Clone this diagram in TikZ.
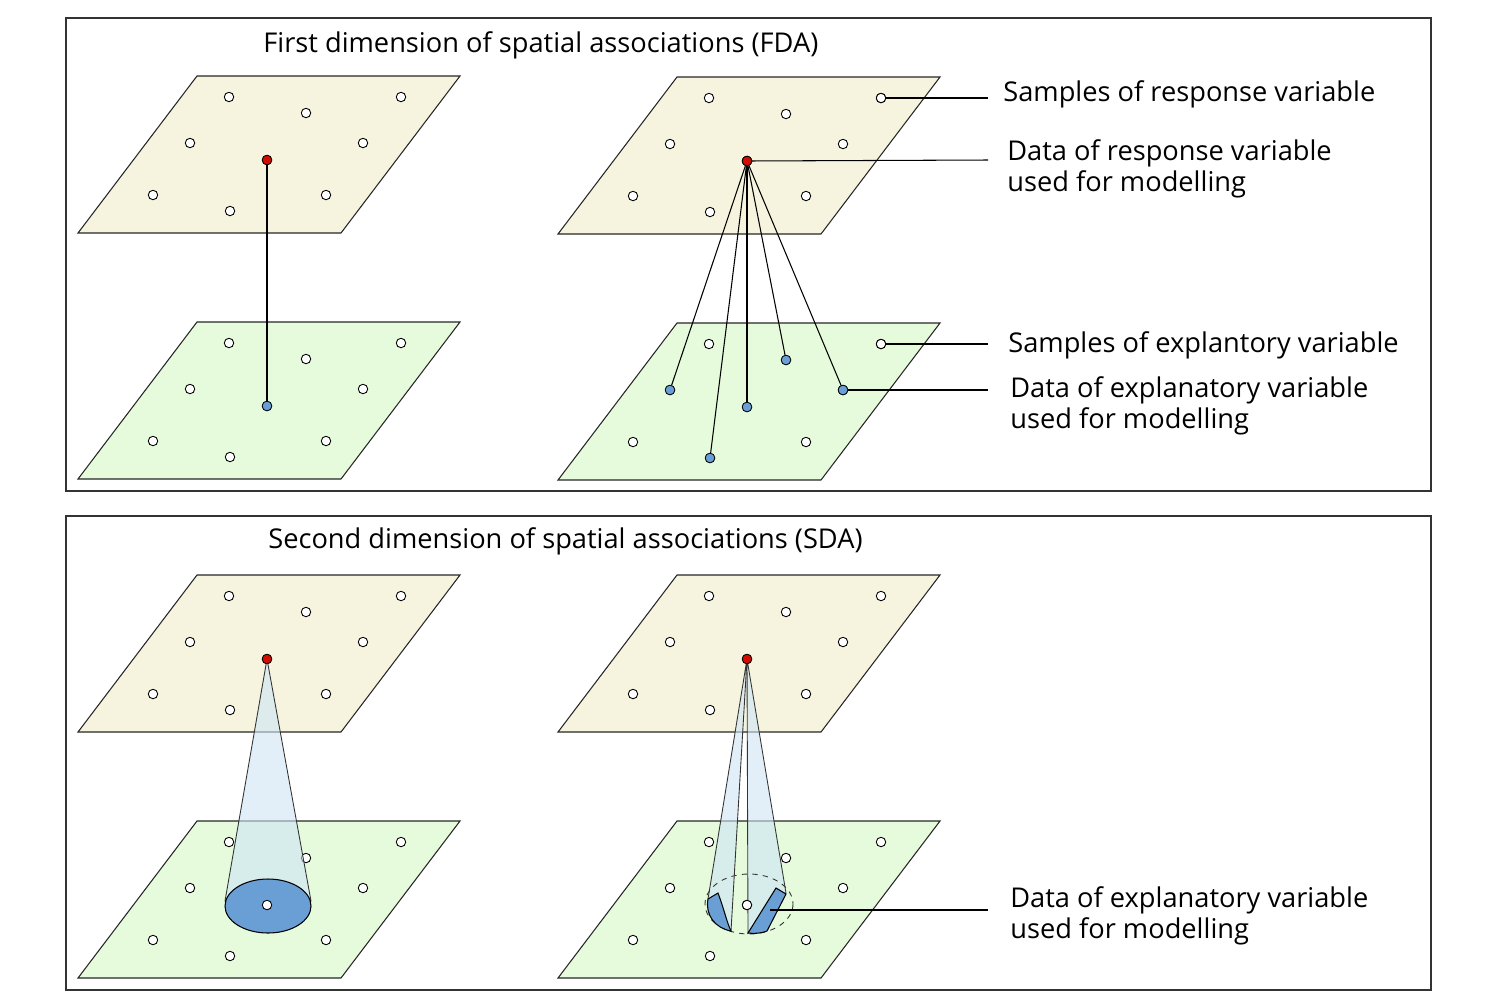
\documentclass[tikz,border=0pt]{standalone}
\usepackage{fontspec}
\setmainfont{Open Sans}
\begin{document}
\begin{tikzpicture}[x=0.02cm,y=-0.02cm,
  frame/.style={draw=black!80,line width=0.6pt},
  topplane/.style={fill=yellow!8!white!92!brown,fill=topc,draw=black!85,line width=0.6pt},
  botplane/.style={fill=botc,draw=black!85,line width=0.6pt},
  od/.style={circle,draw=black,fill=white,inner sep=0pt,minimum size=9.5pt*0.567*1.0,line width=0.5pt},
  rd/.style={circle,draw=black,fill=red!80!black!90!orange,inner sep=0pt,minimum size=5.5pt,line width=0.4pt},
  bd/.style={circle,draw=black,fill=bluec,inner sep=0pt,minimum size=5.5pt,line width=0.4pt},
  lbl/.style={anchor=west,font=\fontsize{15.5}{18}\selectfont,align=left,inner sep=0pt},
  ttl/.style={anchor=west,font=\fontsize{15.5}{18}\selectfont,inner sep=0pt},
  ln/.style={line width=0.6pt},
  cone/.style={fill=conec,fill opacity=0.6,draw=black!80,line width=0.5pt}]
\definecolor{topc}{HTML}{F6F4DF}
\definecolor{botc}{HTML}{E5FBDC}
\definecolor{bluec}{HTML}{6A9FD6}
\definecolor{conec}{HTML}{CFE5F5}
\useasboundingbox (0,0) rectangle (1500,1005);
\draw[frame] (66,18) rectangle (1431,491);
\draw[frame] (66,516) rectangle (1431,990);
\node[ttl] (t1) at (263,45) {First dimension of spatial associations (FDA)};
\node[ttl] (t2) at (268,541) {Second dimension of spatial associations (SDA)};
% planes: shift (dx,dy)
\foreach \dx/\dy/\s/\n in {0/0/topplane/a,0/246/botplane/b,480/1/topplane/c,480/247/botplane/d,0/499/topplane/e,0/745/botplane/f,480/499/topplane/g,480/745/botplane/h}{
  \begin{scope}[shift={(\dx,\dy)}]
  \draw[\s] (78,233) -- (341,233) -- (460,76) -- (197,76) -- cycle;
  \foreach \px/\py/\k in {229/97/1,306/113/2,401/97/3,190/143/4,363/143/5,153/195/6,326/195/7,230/211/8,267/160/9}
    \node[od] (\n\k) at (\px,\py) {};
  \end{scope}
}
% FDA left
\node[rd] (ar) at (a9) {};
\node[bd] (bb) at (b9) {};
\draw[ln] (ar) -- (bb);
% FDA right
\node[rd] (cr) at (c9) {};
\foreach \k in {9,2,4,5,8}{\node[bd] (db\k) at (d\k) {}; \draw[ln] (cr) -- (db\k);}
\node[rd] (cr2) at (c9) {};
% SDA left
\coordinate (ap) at (e9);
\draw[cone] (ap) -- (225,901) -- (311,901) -- cycle;
\draw[fill=bluec,draw=black,line width=0.6pt] (268,906) ellipse [x radius=43,y radius=27];
\node[od] at (f9) {};
\node[rd] (er) at (e9) {};
% SDA right
\coordinate (ap2) at (g9);
\draw[cone] (ap2) -- (708,899) -- (731,931) -- cycle;
\draw[cone] (ap2) -- (748,933) -- (786,893) -- cycle;
\draw[dashed,line width=0.5pt,draw=black!80] (749,904) ellipse [x radius=44,y radius=30];
\draw[fill=bluec,draw=black,line width=0.6pt] (708,899) .. controls (705,915) and (715,928) .. (731,931) .. controls (726,920) and (725,912) .. (718,893) -- cycle;
\draw[fill=bluec,draw=black,line width=0.6pt] (748,933) .. controls (755,934) and (762,933) .. (767,931) -- (786,894) -- (776,888) -- cycle;
\node[od] at (h9) {};
\node[rd] (gr) at (g9) {};
% labels
\coordinate (l1) at (988,98); \coordinate (l2) at (988,160); \coordinate (l3) at (988,344); \coordinate (l4) at (988,390); \coordinate (l5) at (988,910);
\coordinate (s5) at (770,910);
\draw[ln] (c3) -- (l1); \draw[ln] (cr) -- (l2); \draw[ln] (d3) -- (l3); \draw[ln] (db5) -- (l4); \draw[ln] (s5) -- (l5);
\node[rd] at (c9) {}; \node[od] at (c3) {}; \node[od] at (d3) {}; \node[bd] at (d5) {};
\node[lbl] (n1) at (1003,94) {Samples of response variable};
\node[lbl] (n2) at (1007,169) {Data of response variable\\used for modelling};
\node[lbl] (n3) at (1008,345) {Samples of explantory variable};
\node[lbl] (n4) at (1010,406) {Data of explanatory variable\\used for modelling};
\node[lbl] (n5) at (1010,916) {Data of explanatory variable\\used for modelling};
\end{tikzpicture}
\end{document}
